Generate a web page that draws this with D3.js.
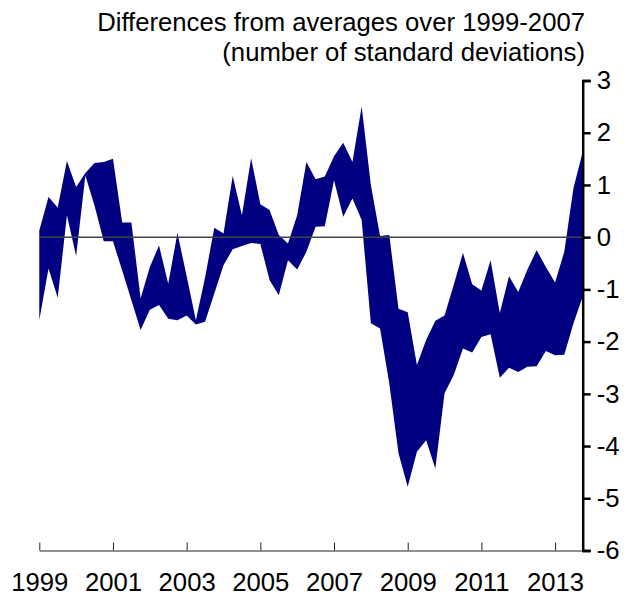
<!DOCTYPE html>
<html>
<head>
<meta charset="utf-8">
<script src="https://cdn.jsdelivr.net/npm/d3@7"></script>
<style>
  body { margin: 0; background: #fff; }
  svg { font-family: "Liberation Sans", Arial, sans-serif; }
</style>
</head>
<body>
<div id="chart"></div>
<script>
// quarterly, 1999Q1 .. 2013Q4
const startYear = 1999
const upper = [0.13, 0.77, 0.57, 1.46, 0.96, 1.23, 1.42, 1.44, 1.50, 0.28,
    0.28, -1.17, -0.57, -0.16, -0.89, 0.08, -0.75, -1.59, -0.77, 0.18,
    0.07, 1.17, 0.42, 1.51, 0.63, 0.52, 0.04, -0.12, 0.42, 1.44,
    1.11, 1.16, 1.55, 1.81, 1.44, 2.50, 1.00, 0.02, 0.04, -1.37,
    -1.44, -2.45, -1.97, -1.60, -1.50, -0.91, -0.30, -0.90, -1.02, -0.44,
    -1.45, -0.75, -1.05, -0.62, -0.25, -0.57, -0.87, -0.28, 0.94, 1.63]
const lower = [-1.59, -0.60, -1.16, 0.42, -0.36, 1.18, 0.60, -0.08, -0.08, -0.64,
    -1.21, -1.78, -1.39, -1.30, -1.56, -1.59, -1.50, -1.67, -1.62, -1.08,
    -0.54, -0.23, -0.17, -0.11, -0.13, -0.82, -1.11, -0.44, -0.62, -0.28,
    0.20, 0.21, 1.09, 0.39, 0.74, 0.33, -1.65, -1.75, -2.80, -4.14,
    -4.78, -4.11, -3.89, -4.43, -2.99, -2.64, -2.13, -2.21, -1.91, -1.86,
    -2.69, -2.50, -2.58, -2.48, -2.47, -2.18, -2.26, -2.25, -1.65, -1.14]
const xTicks = [1999, 2001, 2003, 2005, 2007, 2009, 2011, 2013]
const yTicks = [3, 2, 1, 0, -1, -2, -3, -4, -5, -6]
const titleLines = ["Differences from averages over 1999-2007", "(number of standard deviations)"]

const width = 643
const height = 595
const plotLeft = 39.3, plotRight = 582.7, plotTop = 80.5, plotBottom = 550.5
const fontSize = 25.7

const data = upper.map((u, i) => ({ t: startYear + i / 4, hi: u, lo: lower[i] }))

const svg = d3.select("#chart").append("svg").attr("width", width).attr("height", height)

const x = d3.scaleLinear().domain([startYear, startYear + (upper.length - 1) / 4]).range([plotLeft, plotRight])
const y = d3.scaleLinear().domain([-6, 3]).range([plotBottom, plotTop])

const area = d3.area().x(d => x(d.t)).y0(d => y(d.lo)).y1(d => y(d.hi))
svg.append("path").datum(data).attr("d", area).attr("fill", "#000080")

// zero line
svg.append("line").attr("x1", x(startYear)).attr("x2", plotRight).attr("y1", y(0)).attr("y2", y(0))
    .attr("stroke", "#444").attr("stroke-width", 1.5)

// x axis, ticks pointing up
const xAxis = svg.append("g").attr("transform", `translate(0,${plotBottom})`)
    .call(d3.axisBottom(x).tickValues(xTicks).tickFormat(d => String(d)).tickSize(-8).tickSizeOuter(0).tickPadding(22))
xAxis.select(".domain").attr("stroke", "#222").attr("stroke-width", 1.2)
xAxis.selectAll(".tick line").attr("stroke", "#222").attr("stroke-width", 1)
xAxis.selectAll("text").attr("font-size", fontSize).attr("fill", "#000").attr("font-family", "Liberation Sans, Arial, sans-serif")

// right y axis
const yAxis = svg.append("g").attr("transform", `translate(${plotRight},0)`)
    .call(d3.axisRight(y).tickValues(yTicks).tickFormat(d => String(d)).tickSize(8).tickSizeOuter(8).tickPadding(6))
yAxis.select(".domain").attr("stroke", "#000").attr("stroke-width", 2.5)
yAxis.selectAll(".tick line").attr("stroke", "#000").attr("stroke-width", 2.5)
yAxis.selectAll("text").attr("font-size", fontSize).attr("fill", "#000").attr("font-family", "Liberation Sans, Arial, sans-serif")

// title
svg.append("g").selectAll("text").data(titleLines).enter().append("text")
    .attr("x", 585).attr("y", (d, i) => 31 + i * 30)
    .attr("text-anchor", "end").attr("font-size", fontSize).attr("fill", "#000")
    .text(d => d)
</script>
</body>
</html>
